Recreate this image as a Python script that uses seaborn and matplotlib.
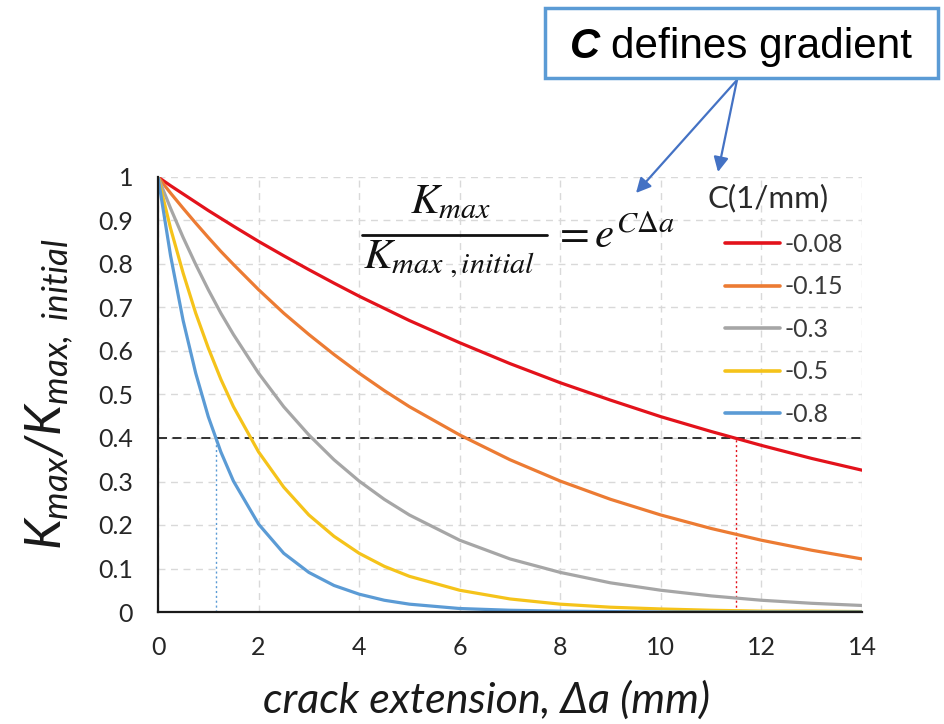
import pandas as pd
import seaborn as sns
import matplotlib.pyplot as plt
from matplotlib.lines import Line2D
from matplotlib.patches import Rectangle

# crack extension samples (mm) and normalised Kmax for each gradient C
crack_ext = [0, 0.25, 0.5, 0.75, 1, 1.25, 1.5, 2, 2.5, 3, 3.5, 4, 4.5, 5,
             6, 7, 8, 9, 10, 11, 12, 13, 14]
ratio_c008 = [1.000, 0.980, 0.961, 0.942, 0.923, 0.905, 0.887, 0.852, 0.819,
              0.787, 0.756, 0.726, 0.698, 0.670, 0.619, 0.571, 0.527, 0.487,
              0.449, 0.415, 0.383, 0.353, 0.326]
ratio_c015 = [1.000, 0.963, 0.928, 0.894, 0.861, 0.829, 0.799, 0.741, 0.687,
              0.638, 0.592, 0.549, 0.509, 0.472, 0.407, 0.350, 0.301, 0.259,
              0.223, 0.192, 0.165, 0.142, 0.122]
ratio_c030 = [1.000, 0.928, 0.861, 0.799, 0.741, 0.687, 0.638, 0.549, 0.472,
              0.407, 0.350, 0.301, 0.259, 0.223, 0.165, 0.122, 0.091, 0.067,
              0.050, 0.037, 0.027, 0.020, 0.015]
ratio_c050 = [1.000, 0.882, 0.779, 0.687, 0.607, 0.535, 0.472, 0.368, 0.287,
              0.223, 0.174, 0.135, 0.105, 0.082, 0.050, 0.030, 0.018, 0.011,
              0.007, 0.004, 0.002, 0.002, 0.001]
ratio_c080 = [1.000, 0.819, 0.670, 0.549, 0.449, 0.368, 0.301, 0.202, 0.135,
              0.091, 0.061, 0.041, 0.027, 0.018, 0.008, 0.004, 0.002, 0.001,
              0.000, 0.000, 0.000, 0.000, 0.000]

c_labels = ['-0.08', '-0.15', '-0.3', '-0.5', '-0.8']
line_colors = ['#E3121B', '#EC7B33', '#A6A6A6', '#F5C31A', '#5B9BD5']
legend_title = 'C(1/mm)'

threshold = 0.4
crossing_fast = 1.15   # C = -0.8 reaches the threshold
crossing_slow = 11.5   # C = -0.08 reaches the threshold

x_ticks = [0, 2, 4, 6, 8, 10, 12, 14]
x_tick_labels = ['0', '2', '4', '6', '8', '10', '12', '14']
y_ticks = [0, 0.1, 0.2, 0.3, 0.4, 0.5, 0.6, 0.7, 0.8, 0.9, 1.0]
y_tick_labels = ['0', '0.1', '0.2', '0.3', '0.4', '0.5', '0.6', '0.7', '0.8', '0.9', '1']

series = [ratio_c008, ratio_c015, ratio_c030, ratio_c050, ratio_c080]
df = pd.concat(
    [pd.DataFrame({'da': crack_ext, 'ratio': vals, 'C': lab})
     for lab, vals in zip(c_labels, series)],
    ignore_index=True,
)

sns.set_theme(style='white')
plt.rcParams['font.family'] = ['Lato', 'DejaVu Sans']
plt.rcParams['mathtext.fontset'] = 'custom'
plt.rcParams['mathtext.it'] = 'Lato:italic'
plt.rcParams['mathtext.rm'] = 'Lato:italic'
plt.rcParams['mathtext.bf'] = 'Lato:bold'

W, H = 945, 724
fig = plt.figure(figsize=(W / 100, H / 100), dpi=100)
fig.patch.set_facecolor('white')


def fx(px):
    return px / W


def fy(py):
    return 1 - py / H


ax = fig.add_axes([fx(158), fy(612), (862 - 158) / W, (612 - 177) / H])

sns.lineplot(data=df, x='da', y='ratio', hue='C', hue_order=c_labels,
             palette=dict(zip(c_labels, line_colors)), linewidth=2.3,
             errorbar=None, ax=ax, zorder=3)

ax.set_xlim(0, 14)
ax.set_ylim(0, 1)
ax.set_xticks(x_ticks)
ax.set_xticklabels(x_tick_labels)
ax.set_yticks(y_ticks)
ax.set_yticklabels(y_tick_labels)
ax.tick_params(axis='both', length=0, labelsize=18, labelcolor='#262626')
ax.tick_params(axis='x', pad=17)
ax.tick_params(axis='y', pad=18)
ax.grid(True, color='#D9D9D9', linestyle=(0, (5, 4)), linewidth=1.0, zorder=0)
ax.set_axisbelow(True)
for side in ('top', 'right'):
    ax.spines[side].set_visible(False)
for side in ('left', 'bottom'):
    ax.spines[side].set_color('#1a1a1a')
    ax.spines[side].set_linewidth(1.6)
    ax.spines[side].set_zorder(4)

# threshold line and the two crossing markers
ax.plot([0, 14], [threshold, threshold], color='#222222', lw=1.3,
        linestyle=(0, (5, 3)), zorder=2)
ax.plot([crossing_fast, crossing_fast], [0, threshold], color='#5B9BD5',
        lw=1.0, linestyle=(0, (1.5, 2)), zorder=2)
ax.plot([crossing_slow, crossing_slow], [0, threshold], color='#E3121B',
        lw=1.0, linestyle=(0, (1.5, 2)), zorder=2)

ax.set_xlabel('crack extension, \u0394a (mm)', fontsize=31, style='italic',
              color='#1a1a1a')
ax.xaxis.set_label_coords((487 - 158) / 704, (612 - 700) / 435)
ax.xaxis.label.set_va('center')
ax.set_ylabel(r'$K_{max}/K_{max,\ initial}$', fontsize=36, color='#1a1a1a',
              math_fontfamily='custom')
ax.yaxis.set_label_coords((50 - 158) / 704, (612 - 394) / 435)
ax.yaxis.label.set_va('center')

leg = ax.legend(loc='upper left',
                bbox_to_anchor=(fx(725), fy(233)), bbox_transform=fig.transFigure,
                frameon=False, fontsize=18, handlelength=2.2,
                handletextpad=0.2, labelspacing=0.78,
                borderpad=0, borderaxespad=0)
for t in leg.get_texts():
    t.set_color('#3a3a3a')
for h in leg.legend_handles:
    h.set_linewidth(2.6)
fig.text(fx(708), fy(198), legend_title, fontsize=22.5, ha='left',
         va='center', color='#2a2a2a')

# governing relation written over the plot
eq_size = 31
fig.text(fx(450), fy(213), r'$K_{max}$', ha='center', va='baseline',
         fontsize=eq_size, math_fontfamily='stix', color='#111111')
fig.add_artist(Line2D([fx(362), fx(547)], [fy(235), fy(235)],
                      transform=fig.transFigure, color='#111111', lw=2.0))
fig.text(fx(449), fy(268), r'$K_{max\ ,initial}$', ha='center', va='baseline',
         fontsize=eq_size, math_fontfamily='stix', color='#111111')
fig.text(fx(553), fy(248), r'$= e^{C\Delta a}$', ha='left', va='baseline',
         fontsize=eq_size, math_fontfamily='stix', color='#111111')

# call-out box with arrows
fig.add_artist(Rectangle((fx(545), fy(78)), 393 / W, 70 / H,
                         transform=fig.transFigure, facecolor='white',
                         edgecolor='#5B9BD5', linewidth=2.5))
fig.text(fx(570), fy(58), 'C', fontsize=30, fontweight='bold', style='italic',
         family='Liberation Sans', ha='left', va='baseline', color='black')
fig.text(fx(611), fy(58), 'defines gradient', fontsize=30.4,
         family='Liberation Sans', ha='left', va='baseline', color='black')
for tip in [(636, 193), (718, 172)]:
    ax.annotate('', xy=(tip[0], H - tip[1]), xycoords='figure pixels',
                xytext=(737, H - 80), textcoords='figure pixels',
                arrowprops=dict(arrowstyle='-|>', color='#4472C4', lw=1.6,
                                mutation_scale=22, shrinkA=0, shrinkB=0),
                annotation_clip=False)

fig.savefig('out.png', dpi=100, facecolor='white')
